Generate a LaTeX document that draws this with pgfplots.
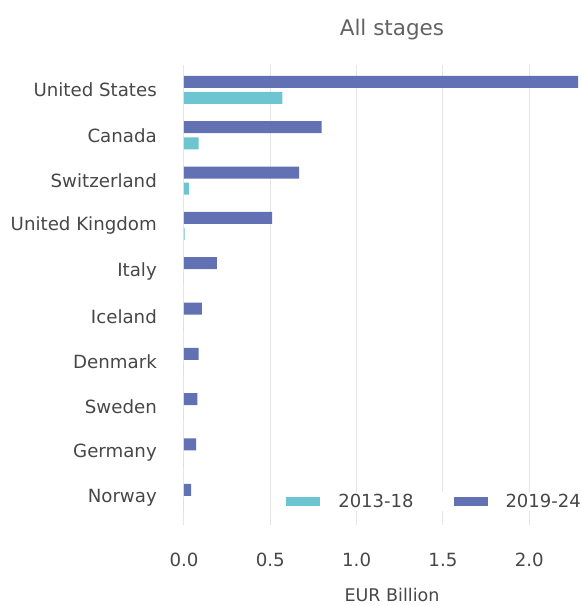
\documentclass[border=0pt]{standalone}
\usepackage{pgfplots}
\pgfplotsset{compat=1.18}
\usepackage{fontspec}
\setmainfont{DejaVu Sans}
\definecolor{cOld}{HTML}{6CC5D0}
\definecolor{cNew}{HTML}{6270B4}
\definecolor{txt}{HTML}{474747}
\definecolor{grd}{HTML}{E6E6E6}
\begin{document}
\begin{tikzpicture}[x=1pt,y=1pt]
\path[use as bounding box] (0,0) rectangle (583,606);
\begin{axis}[
  at={(184pt,81pt)}, anchor=south west,
  scale only axis, width=416pt, height=460pt,
  xmin=0, xmax=2.41, ymin=-0.6, ymax=9.55,
  axis line style={draw=none},
  major tick length=0pt,
  xmajorgrids, grid style={grd, line width=1pt},
  xtick={0,0.5,1,1.5,2},
  xticklabels={0.0,0.5,1.0,1.5,2.0},
  ytick={0,1,2,3,4,5,6,7,8,9},
  yticklabels={Norway,Germany,Sweden,Denmark,Iceland,Italy,United Kingdom,Switzerland,Canada,United States},
  /pgf/number format/assume math mode=true,
  tick label style={font=\fontsize{18.2}{21}\selectfont, text=txt, inner sep=0pt},
  yticklabel style={anchor=east, xshift=-27pt},
  xticklabel style={anchor=north, yshift=-28pt},
  xlabel={EUR Billion},
  xlabel style={at={(axis description cs:0.5,0)}, anchor=north, yshift=-63pt, inner sep=0pt, font=\fontsize{17.5}{20}\selectfont, text=txt},
  title={All stages},
  title style={at={(axis description cs:0.5,1)}, anchor=base, yshift=23pt, inner sep=0pt, font=\fontsize{21.5}{24}\selectfont, text=txt!85},
  xbar, bar width=12pt, bar shift=0pt,
  legend columns=2,
  legend style={at={(axis description cs:0.959,0.052)}, anchor=east, draw=none, fill=white,
    inner sep=2pt, column sep=18pt, font=\fontsize{18}{20}\selectfont, text=txt,
    nodes={inner sep=0pt},
    /tikz/every even column/.append style={column sep=40pt}},
  legend image code/.code={\fill[#1] (0pt,-4.5pt) rectangle (34pt,4.5pt);},
]
\addplot[fill=cOld, draw=none] coordinates {
(0.57,8.823) (0.085,7.823) (0.03,6.823) (0.003,5.823) (0,4.823)
(0,3.823) (0,2.823) (0,1.823) (0,0.823) (0,-0.177)
};
\addlegendentry{2013-18}
\addplot[fill=cNew, draw=none] coordinates {
(2.284,9.177) (0.797,8.177) (0.667,7.177) (0.51,6.177) (0.19,5.177)
(0.104,4.177) (0.085,3.177) (0.077,2.177) (0.07,1.177) (0.041,0.177)
};
\addlegendentry{2019-24}
\end{axis}
\end{tikzpicture}
\end{document}
